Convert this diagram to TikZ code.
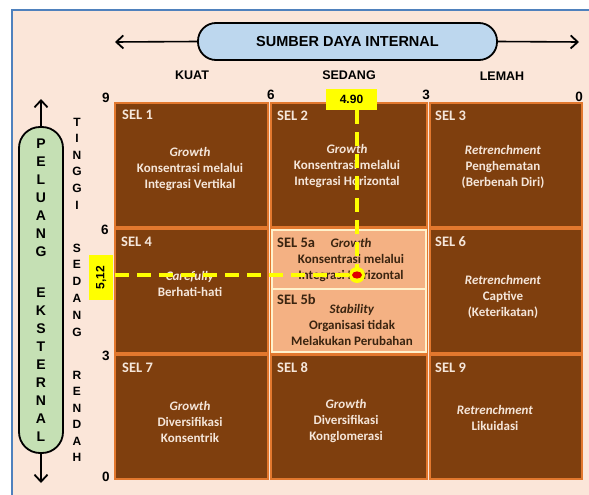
\documentclass[tikz,border=0pt]{standalone}
\usepackage{fontspec}
\setmainfont{Liberation Sans}
\newfontfamily\calfont{Carlito}
\usetikzlibrary{arrows.meta}
\definecolor{bgpeach}{HTML}{FBE6D9}
\definecolor{frameblue}{HTML}{4F81BD}
\definecolor{cellbrown}{HTML}{7F3F0E}
\definecolor{cellorange}{HTML}{E2782E}
\definecolor{lightcell}{HTML}{F4B183}
\definecolor{creamline}{HTML}{FFF2CC}
\definecolor{celltext}{HTML}{F5E6DA}
\definecolor{darktext}{HTML}{3A2410}
\definecolor{pillblue}{HTML}{BDD7EE}
\definecolor{pillgreen}{HTML}{C5E0B4}
\definecolor{markyellow}{HTML}{FFFF00}
\definecolor{markred}{HTML}{E00000}
\begin{document}
\begin{tikzpicture}[x=1pt,y=-1pt,
  cellbox/.style={fill=cellbrown,draw=cellorange,line width=2pt},
  lightbox/.style={fill=lightcell,draw=creamline,line width=1.6pt},
  seltxt/.style={anchor=west,inner sep=0pt,font=\calfont\bfseries\fontsize{14.5}{16}\selectfont,text=celltext},
  seldark/.style={seltxt,text=darktext},
  celltxt/.style={align=center,inner sep=0pt,font=\calfont\bfseries\fontsize{13}{16}\selectfont,text=celltext},
  darktxt/.style={celltxt,text=darktext},
  axislab/.style={inner sep=0pt,font=\bfseries\fontsize{12.5}{14}\selectfont},
  numlab/.style={inner sep=0pt,font=\bfseries\fontsize{13.5}{14}\selectfont},
  pilllet/.style={inner sep=0pt,font=\bfseries\fontsize{14}{15}\selectfont},
  sidelet/.style={inner sep=0pt,font=\bfseries\fontsize{12}{13}\selectfont},
  barb/.style={-{Straight Barb[length=7pt,width=13pt,line width=1.8pt]},line width=1.6pt},
  yline/.style={draw=markyellow,line width=4.5pt,dash pattern=on 14pt off 8pt},
  ylabel/.style={fill=markyellow,inner sep=0pt,font=\bfseries\fontsize{12}{13}\selectfont}
]
\useasboundingbox (0,0) rectangle (589,495);
\fill[white] (0,0) rectangle (589,495);
\fill[bgpeach] (12,10) rectangle (589,495);
\draw[frameblue,line width=1.5pt] (12,495) -- (12,10) -- (589,10);

% top axis
\node[draw,line width=1.8pt,fill=pillblue,rounded corners=18pt,minimum width=299pt,minimum height=37pt,inner sep=0pt,
  font=\bfseries\fontsize{14.5}{16}\selectfont] (sdi) at (347.5,41.5) {SUMBER DAYA INTERNAL};
\coordinate (la) at (115,42);
\coordinate (ra) at (579,42);
\draw[barb] (sdi.west) -- (la);
\draw[barb] (sdi.east) -- (ra);
\node[axislab] (kuat) at (192,75) {KUAT};
\node[axislab] (sedang) at (349,75) {SEDANG};
\node[axislab] (lemah) at (502,76) {LEMAH};

% left axis
\node[draw,line width=1.8pt,fill=pillgreen,rounded corners=21pt,minimum width=44pt,minimum height=326pt,inner sep=0pt] (pel) at (41,290) {};
\coordinate (ua) at (41,99);
\coordinate (da) at (41,483);
\draw[barb] (pel.north) -- (ua);
\draw[barb] (pel.south) -- (da);
\foreach \l [count=\i from 0] in {P,E,L,U,A,N,G}
  \node[pilllet] (pa\i) at (41,144+18*\i) {\l};
\foreach \l [count=\i from 0] in {E,K,S,T,E,R,N,A,L}
  \node[pilllet] (pb\i) at (41,293+18*\i) {\l};
\foreach \l [count=\i from 0] in {T,I,N,G,G,I}
  \node[sidelet] (ta\i) at (77,122+16.6*\i) {\l};
\foreach \l [count=\i from 0] in {S,E,D,A,N,G}
  \node[sidelet] (tb\i) at (77,248+16.8*\i) {\l};
\foreach \l [count=\i from 0] in {R,E,N,D,A,H}
  \node[sidelet] (tc\i) at (77,375+16.5*\i) {\l};

% scale numbers
\node[numlab] (x9) at (106,98) {9};
\node[numlab] (x6) at (271,95) {6};
\node[numlab] (x3) at (426,95) {3};
\node[numlab] (x0) at (579,97) {0};
\node[numlab] (y6) at (105,230) {6};
\node[numlab] (y3) at (106,356) {3};
\node[numlab] (y0) at (106,477) {0};

% cells
\path[cellbox] (115,103) rectangle (268,227);
\path[cellbox] (271,103) rectangle (427,227);
\path[cellbox] (430,103) rectangle (582,227);
\path[cellbox] (115,229) rectangle (268,353);
\path[cellbox] (271,229) rectangle (427,353);
\path[cellbox] (430,229) rectangle (582,353);
\path[cellbox] (115,355) rectangle (268,479);
\path[cellbox] (271,355) rectangle (427,479);
\path[cellbox] (430,355) rectangle (582,479);
\path[lightbox] (272,230) rectangle (426,289);
\path[lightbox] (272,289) rectangle (426,352);

% cell texts
\node[seltxt] (s1) at (122,115) {SEL 1};
\node[celltxt] (t1) at (190,169) {\textit{Growth}\\Konsentrasi melalui\\Integrasi Vertikal};
\node[seltxt] (s2) at (277,116) {SEL 2};
\node[celltxt] (t2) at (347,166) {\textit{Growth}\\Konsentrasi melalui\\Integrasi Horizontal};
\node[seltxt] (s3) at (435,116) {SEL 3};
\node[celltxt] (t3) at (503,167) {\textit{Retrenchment}\\Penghematan\\(Berbenah Diri)};
\node[seltxt] (s4) at (121,242) {SEL 4};
\node[celltxt] (t4) at (190,284) {\textit{Carefully}\\Berhati-hati};
\node[seldark] (s5a) at (277,243) {SEL 5a};
\node[darktxt] (t5a) at (351,260) {\textit{Growth}\\Konsentrasi melalui\\Integrasi Horizontal};
\node[seldark] (s5b) at (277,299) {SEL 5b};
\node[darktxt] (t5b) at (352,325) {\textit{Stability}\\Organisasi tidak\\Melakukan Perubahan};
\node[seltxt] (s6) at (435,242) {SEL 6};
\node[celltxt] (t6) at (503,297) {\textit{Retrenchment}\\Captive\\(Keterikatan)};
\node[seltxt] (s7) at (122,368) {SEL 7};
\node[celltxt] (t7) at (190,422) {\textit{Growth}\\Diversifikasi\\Konsentrik};
\node[seltxt] (s8) at (277,368) {SEL 8};
\node[celltxt] (t8) at (346,421) {\textit{Growth}\\Diversifikasi\\Konglomerasi};
\node[seltxt] (s9) at (435,368) {SEL 9};
\node[celltxt] (t9) at (495,418) {\textit{Retrenchment}\\Likuidasi};

% position marker
\node[ylabel,minimum width=51pt,minimum height=21pt] (v490) at (351.5,99.5) {4.90};
\node[ylabel,rotate=90,minimum width=45pt,minimum height=24pt] (v512) at (101,277.5) {5,12};
\coordinate (dot) at (357,275);
\coordinate (hstart) at (115,275);
\draw[yline] (hstart) -- (dot);
\draw[yline] (v490.south -| dot) -- (dot);
\node[circle,fill=markyellow,minimum size=16pt,inner sep=0pt] (ring) at (dot) {};
\fill[markred] (ring.center) ellipse (5pt and 3.6pt);
\end{tikzpicture}
\end{document}
